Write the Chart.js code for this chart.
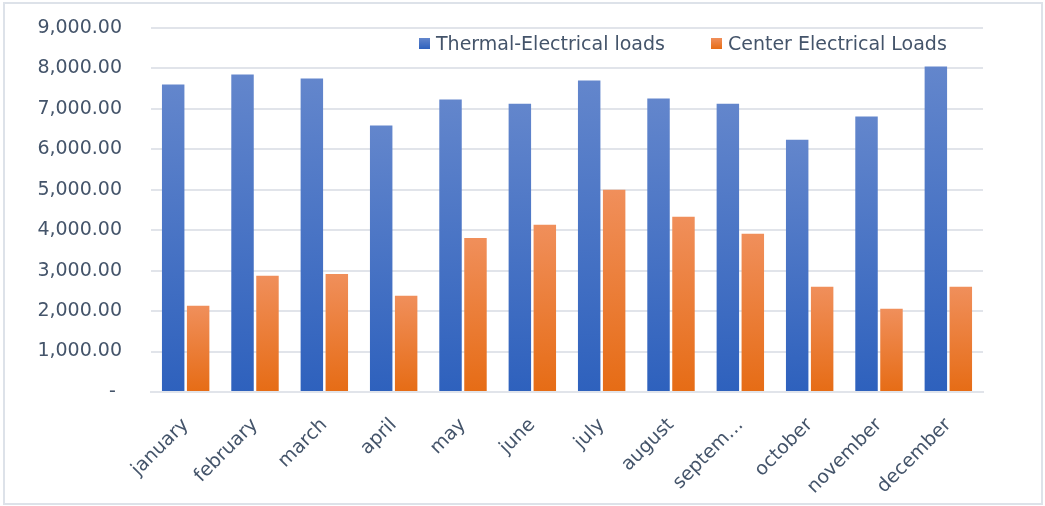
<!DOCTYPE html>
<html>
<head>
<meta charset="utf-8">
<script src="https://cdn.jsdelivr.net/npm/chart.js@4/dist/chart.umd.min.js"></script>
<style>
  html, body { margin: 0; padding: 0; background: #fff; }
  #frame {
    position: absolute; left: 3px; top: 2px;
    width: 1036px; height: 499px;
    border: 2px solid #dde2e9;
  }
  #wrap { position: absolute; left: 0; top: 0; width: 1045px; height: 506px; }
  #legend {
    position: absolute; left: 419px; top: 32px;
    display: flex; align-items: center;
    font: 19px "DejaVu Sans", sans-serif; color: #44546a;
  }
  #legend .item { display: flex; align-items: center; margin-right: 46px; }
  #legend .box { width: 11px; height: 11px; margin-right: 6px; }
</style>
</head>
<body>
<div id="frame"></div>
<div id="wrap"><canvas id="loadsChart" width="1045" height="506"></canvas></div>
<div id="legend"></div>
<script>
const months = ["january", "february", "march", "april", "may", "june",
  "july", "august", "septem…", "october", "november", "december"];
const thermalElectrical = [7600, 7850, 7750, 6590, 7230, 7130, 7700, 7255, 7130, 6240, 6810, 8045];
const centerElectrical = [2130, 2875, 2920, 2380, 3810, 4135, 5000, 4335, 3910, 2600, 2060, 2600];
const seriesNames = ["Thermal-Electrical loads", "Center Electrical Loads"];
const yTicks = [0, 1000, 2000, 3000, 4000, 5000, 6000, 7000, 8000, 9000];

const textColor = "#44546a";
const gridColor = "#e1e4ea";
const blueShade = ["#6386cc", "#2e61bd"];
const orangeShade = ["#f08f5b", "#e66c15"];

// each bar gets its own top-to-bottom gradient
function barFill(shade) {
  return (ctx) => {
    const y = ctx.chart.scales.y;
    if (!y || ctx.type !== "data") return shade[1];
    const top = y.getPixelForValue(ctx.raw);
    const base = y.getPixelForValue(0);
    if (!isFinite(top) || Math.abs(base - top) < 1) return shade[1];
    const g = ctx.chart.ctx.createLinearGradient(0, top, 0, base);
    g.addColorStop(0, shade[0]);
    g.addColorStop(1, shade[1]);
    return g;
  };
}

const fmt = new Intl.NumberFormat("en-US", { minimumFractionDigits: 2, maximumFractionDigits: 2 });

const chart = new Chart(document.getElementById("loadsChart"), {
  type: "bar",
  data: {
    labels: months,
    datasets: [
      {
        label: seriesNames[0],
        data: thermalElectrical,
        backgroundColor: barFill(blueShade),
        categoryPercentage: 0.72,
        barPercentage: 0.9,
      },
      {
        label: seriesNames[1],
        data: centerElectrical,
        backgroundColor: barFill(orangeShade),
        categoryPercentage: 0.72,
        barPercentage: 0.9,
      },
    ],
  },
  options: {
    responsive: false,
    animation: false,
    layout: { padding: { left: 0, top: 28, right: 62, bottom: 0 } },
    plugins: {
      legend: { display: false },
      tooltip: { enabled: false },
    },
    scales: {
      x: {
        grid: { display: false },
        border: { display: true, color: gridColor, width: 2 },
        ticks: {
          color: textColor,
          font: { family: "DejaVu Sans", size: 19 },
          minRotation: 45,
          maxRotation: 45,
          padding: 14,
          autoSkip: false,
        },
        afterFit(scale) { scale.height = 114; },
      },
      y: {
        min: 0,
        max: 9000,
        afterBuildTicks(scale) { scale.ticks = yTicks.map((v) => ({ value: v })); },
        grid: { color: gridColor, lineWidth: 2, drawTicks: false },
        border: { display: false },
        ticks: {
          color: textColor,
          font: { family: "DejaVu Sans", size: 19 },
          padding: 29,
          callback: (v) => (v === 0 ? "- " : fmt.format(v)),
        },
        afterFit(scale) {
          scale.width = 151;
          // tick padding only pushes the labels sideways
          scale.paddingTop = 12;
          scale.paddingBottom = 0;
        },
      },
    },
  },
});

// legend drawn as html so it can sit inside the plot area
const legend = document.getElementById("legend");
[blueShade, orangeShade].forEach((shade, i) => {
  const item = document.createElement("div");
  item.className = "item";
  const box = document.createElement("div");
  box.className = "box";
  box.style.background = `linear-gradient(${shade[0]}, ${shade[1]})`;
  const label = document.createElement("span");
  label.textContent = seriesNames[i];
  item.appendChild(box);
  item.appendChild(label);
  legend.appendChild(item);
});
</script>
</body>
</html>
